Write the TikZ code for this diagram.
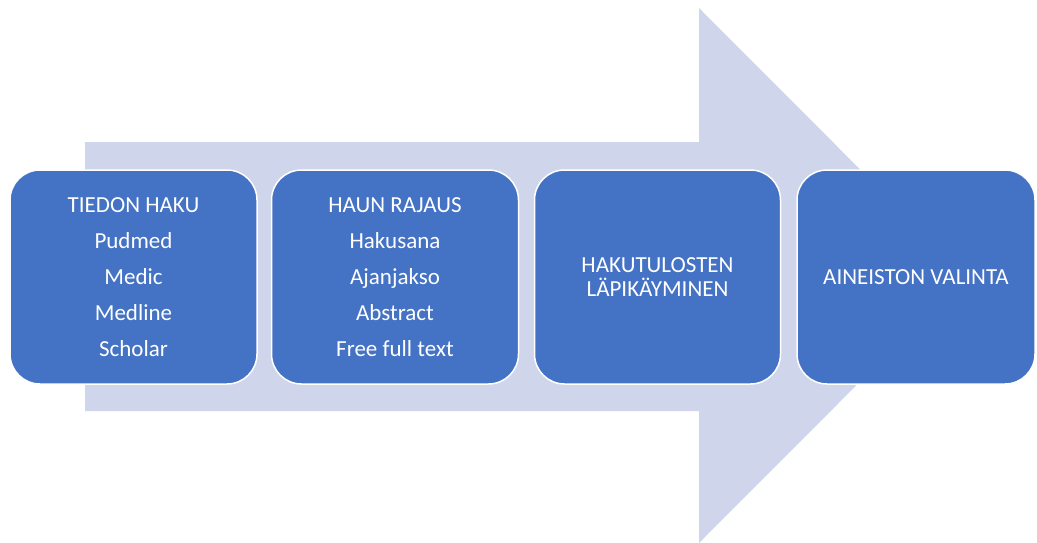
\documentclass[tikz,border=0pt]{standalone}
\usepackage{fontspec}
\setmainfont{Carlito}
\usepackage{xcolor}
\usepackage{tikz}
\usetikzlibrary{positioning}
\definecolor{boxblue}{HTML}{4472C4}
\definecolor{arrowgray}{HTML}{CFD5EA}
\tikzset{
    stepbox/.style = {rectangle, rounded corners=30pt, draw=white, line width=1.5pt, fill=boxblue, text=white, align=center, minimum height=214pt},
    listfont/.style = {font=\fontsize{23}{36}\selectfont},
    plainfont/.style = {font=\fontsize{23}{24}\selectfont},
}

\begin{document}
\begin{tikzpicture}[x=1pt, y=-1pt]
\useasboundingbox (0,0) rectangle (1037,543);
% big arrow behind
\fill[arrowgray] (85,142) -- (699,142) -- (699,8) -- (966,275.5) -- (699,543) -- (699,411) -- (85,411) -- cycle;
%
\node[stepbox, listfont, minimum width=247pt] at (133.5,277) (haku) {TIEDON HAKU\\Pudmed\\Medic\\Medline\\Scholar};
\node[stepbox, listfont, minimum width=247pt] at (395,277) (rajaus) {HAUN RAJAUS\\Hakusana\\Ajanjakso\\Abstract\\Free full text};
\node[stepbox, plainfont, minimum width=246pt] at (657.5,277) (tulokset) {HAKUTULOSTEN\\LÄPIKÄYMINEN};
\node[stepbox, plainfont, minimum width=238pt] at (916,277) (valinta) {AINEISTON VALINTA};
\end{tikzpicture}
\end{document}
